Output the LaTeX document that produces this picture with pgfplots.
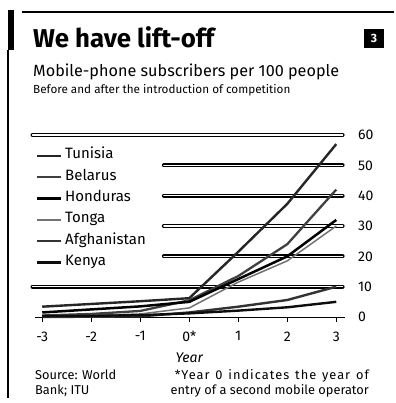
\documentclass[border=0pt]{standalone}
\usepackage{pgfplots}
\pgfplotsset{compat=1.18}
\usepackage{fontspec}
\setmainfont{Fira Sans}
\begin{document}
\begin{tikzpicture}
% canvas
\fill[white] (0pt,0pt) rectangle (394pt,403pt);
% frame decorations
\draw[line width=2pt] (22pt,391pt) -- (394pt,391pt);
\fill[black] (8pt,353pt) rectangle (14pt,393pt);
\draw[line width=1.4pt] (8pt,353pt) -- (8pt,5pt);
% title block
\node[anchor=base west, inner sep=0pt, font=\fontsize{25.8}{25.8}\selectfont\bfseries] at (33pt,355pt) {We have lift-off};
\fill[black] (364pt,355pt) rectangle (384pt,374pt);
\node[text=white, font=\fontsize{12}{12}\selectfont\bfseries] at (374pt,364.5pt) {3};
\node[anchor=base west, inner sep=0pt, font=\fontsize{16.2}{16.2}\selectfont] at (33pt,326pt) {Mobile-phone subscribers per 100 people};
\node[anchor=base west, inner sep=0pt, font=\fontsize{11.7}{11.7}\selectfont] at (33pt,309pt) {Before and after the introduction of competition};
% footnotes
\node[anchor=base west, inner sep=0pt, font=\fontsize{12.8}{12.8}\selectfont] at (35pt,23pt) {Source: World};
\node[anchor=base west, inner sep=0pt, font=\fontsize{12.8}{12.8}\selectfont] at (35pt,9pt) {Bank; ITU};
\node[anchor=base east, inner sep=0pt, font=\fontsize{12.8}{12.8}\selectfont] at (369pt,23pt) {\addfontfeatures{LetterSpace=8}\makebox[194pt][s]{*Year 0 indicates the year of}};
\node[anchor=base east, inner sep=0pt, font=\fontsize{12.8}{12.8}\selectfont] at (369pt,9pt) {entry of a second mobile operator};
\begin{axis}[
  at={(30pt,86pt)}, anchor=south west,
  scale only axis, width=314.6pt, height=182pt,
  xmin=-3.25, xmax=3.17, ymin=0, ymax=60,
  clip=false,
  axis line style={draw=none},
  /pgf/number format/assume math mode=true,
  xtick={-3,-2,-1,0,1,2,3},
  xticklabels={\textrm{-3},\textrm{-2},\textrm{-1},\textrm{0*},\textrm{1},\textrm{2},\textrm{3}},
  xtick pos=lower, tick align=outside,
  major tick length=5pt,
  x tick style={black, line width=0.9pt},
  ytick={0,10,20,30,40,50,60},
  yticklabel pos=right,
  y tick style={draw=none},
  ticklabel style={font=\fontsize{14}{14}\selectfont},
  xticklabel style={yshift=-6pt},
  yticklabel style={xshift=5pt},
  xlabel={\itshape Year},
  xlabel style={at={(axis description cs:0.506,0)}, anchor=base, yshift=-45pt, font=\fontsize{14}{14}\selectfont},
  legend cell align=left,
  legend image code/.code={\draw[#1] (0pt,0pt) -- (24pt,0pt);},
  legend style={at={(axis description cs:0.008,0.93)}, anchor=north west,
    draw=none, fill=none, font=\fontsize{15}{15}\selectfont,
    nodes={inner ysep=0pt, inner xsep=3pt, text height=9pt, text depth=3pt},
    row sep=9.3pt},
]
% gridlines (decoration)
\draw[black, line width=1.4pt, double=white, double distance=1.1pt, line cap=round] (axis cs:-3.2,60) -- (axis cs:3.13,60);
\draw[black, line width=1.4pt, double=white, double distance=1.1pt, line cap=round] (axis cs:-0.52,50) -- (axis cs:3.13,50);
\draw[black, line width=1.4pt, double=white, double distance=1.1pt, line cap=round] (axis cs:-0.52,40) -- (axis cs:3.13,40);
\draw[black, line width=1.4pt, double=white, double distance=1.1pt, line cap=round] (axis cs:-0.52,30) -- (axis cs:3.13,30);
\draw[black, line width=1.4pt, double=white, double distance=1.1pt, line cap=round] (axis cs:-0.52,20) -- (axis cs:3.13,20);
\draw[black, line width=1.4pt, double=white, double distance=1.1pt, line cap=round] (axis cs:-3.2,10) -- (axis cs:3.13,10);
\draw[black, line width=0.9pt] (axis cs:-3.15,0) -- (axis cs:3.17,0);
% data
\addplot[black!85, line width=2.4pt] coordinates {(-3,3.4) (-2,4.3) (-1,5.2) (0,6.2) (1,21.5) (2,37.3) (3,57)};
\addlegendentry{Tunisia}
\addplot[black!75, line width=2.3pt] coordinates {(-3,0.5) (-2,1.0) (-1,2.0) (0,5.5) (1,13.5) (2,24) (3,42)};
\addlegendentry{Belarus}
\addplot[black, line width=2.5pt] coordinates {(-3,1.5) (-2,2.5) (-1,3.5) (0,5.0) (1,12.5) (2,20) (3,32)};
\addlegendentry{Honduras}
\addplot[black!55, line width=1.5pt] coordinates {(-3,0.3) (-2,0.5) (-1,1.0) (0,3.0) (1,11.5) (2,18.5) (3,30)};
\addlegendentry{Tonga}
\addplot[black!80, line width=2.4pt] coordinates {(-3,0.0) (-2,0.1) (-1,0.2) (0,1.5) (1,3.4) (2,5.6) (3,10)};
\addlegendentry{Afghanistan}
\addplot[black!95, line width=2.4pt] coordinates {(-3,0.3) (-2,0.4) (-1,0.6) (0,1.2) (1,2.1) (2,3.2) (3,5)};
\addlegendentry{Kenya}
\end{axis}
\end{tikzpicture}
\end{document}
